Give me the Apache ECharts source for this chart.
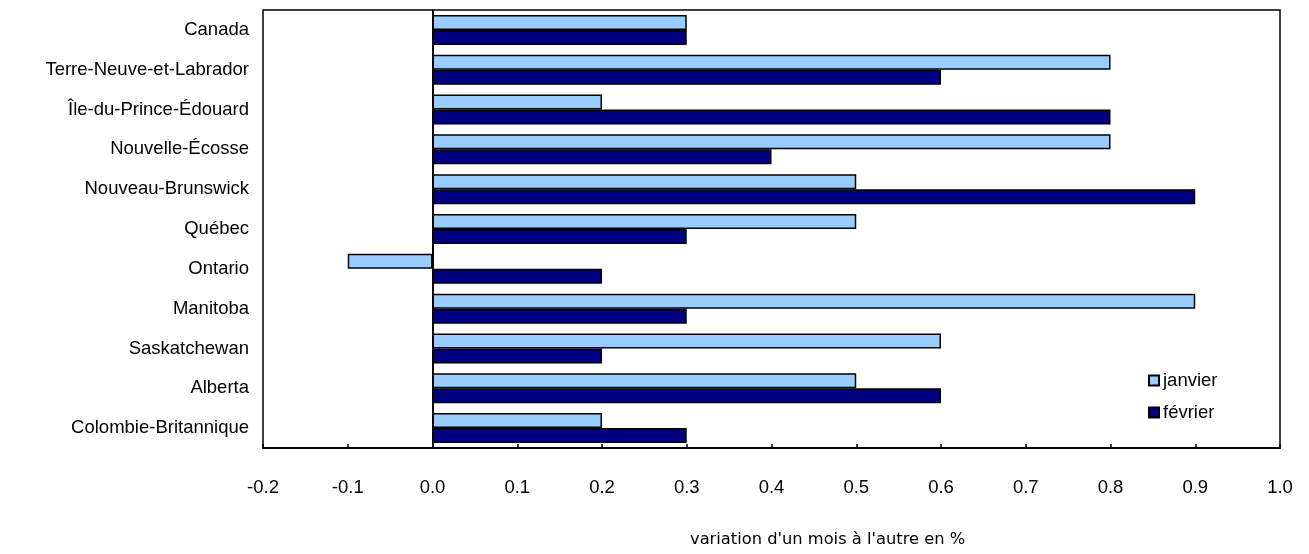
<!DOCTYPE html>
<html>
<head>
<meta charset="utf-8">
<script src="https://cdn.jsdelivr.net/npm/echarts@6/dist/echarts.min.js"></script>
<style>html,body{margin:0;padding:0;background:#fff}#c{width:1309px;height:554px}</style>
</head>
<body>
<div id="c"></div>
<script>
var categories = ["Canada","Terre-Neuve-et-Labrador","Île-du-Prince-Édouard","Nouvelle-Écosse","Nouveau-Brunswick","Québec","Ontario","Manitoba","Saskatchewan","Alberta","Colombie-Britannique"];
var janvier = [0.3,0.8,0.2,0.8,0.5,0.5,-0.1,0.9,0.6,0.5,0.2];
var fevrier = [0.3,0.6,0.8,0.4,0.9,0.3,0.2,0.3,0.2,0.6,0.3];
var seriesNames = ["janvier","février"];
var axisTitle = "variation d'un mois à l'autre en %";

var chart = echarts.init(document.getElementById('c'), null, {renderer:'canvas'});
var font = 'Liberation Sans, Arial, sans-serif';
chart.setOption({
  animation:false,
  grid:{left:263,right:29,top:10,bottom:106,show:true,borderColor:'#000',borderWidth:1.5,backgroundColor:'#fff'},
  legend:{
    orient:'vertical', left:1143, top:366, itemWidth:10, itemHeight:10, itemGap:13,
    textStyle:{fontFamily:font,fontSize:18.5,color:'#000',padding:[0,0,0,-1]},
    data:[{name:seriesNames[0],icon:'rect'},{name:seriesNames[1],icon:'rect'}]
  },
  xAxis:{
    type:'value', min:-0.2, max:1.0, interval:0.1,
    splitLine:{show:false},
    axisLine:{show:true,onZero:false,lineStyle:{color:'#000',width:2}},
    axisTick:{show:true,inside:true,length:4,lineStyle:{color:'#000',width:1.5}},
    axisLabel:{fontFamily:font,fontSize:18.5,color:'#000',margin:30,formatter:function(v){return (Math.round(v*10)/10).toFixed(1);}}
  },
  yAxis:{
    type:'category', data:categories, inverse:true,
    axisLine:{show:false}, axisTick:{show:false},
    axisLabel:{fontFamily:font,fontSize:18.5,color:'#000',margin:14}
  },
  series:[
    {name:seriesNames[0],type:'bar',data:janvier,barWidth:15,barGap:'0%',
     itemStyle:{color:'#99CCFF',borderColor:'#000',borderWidth:1.5},
     markLine:{silent:true,symbol:'none',label:{show:false},lineStyle:{color:'#000',width:2,type:'solid'},data:[{xAxis:0}]}},
    {name:seriesNames[1],type:'bar',data:fevrier,barWidth:15,barGap:'0%',
     itemStyle:{color:'#000080',borderColor:'#000',borderWidth:1.5}}
  ],
  graphic:[{type:'text',left:690,top:532,style:{text:axisTitle,fontFamily:'DejaVu Sans, Verdana, sans-serif',fontSize:16.3,fill:'#000'}}]
});
</script>
</body>
</html>
